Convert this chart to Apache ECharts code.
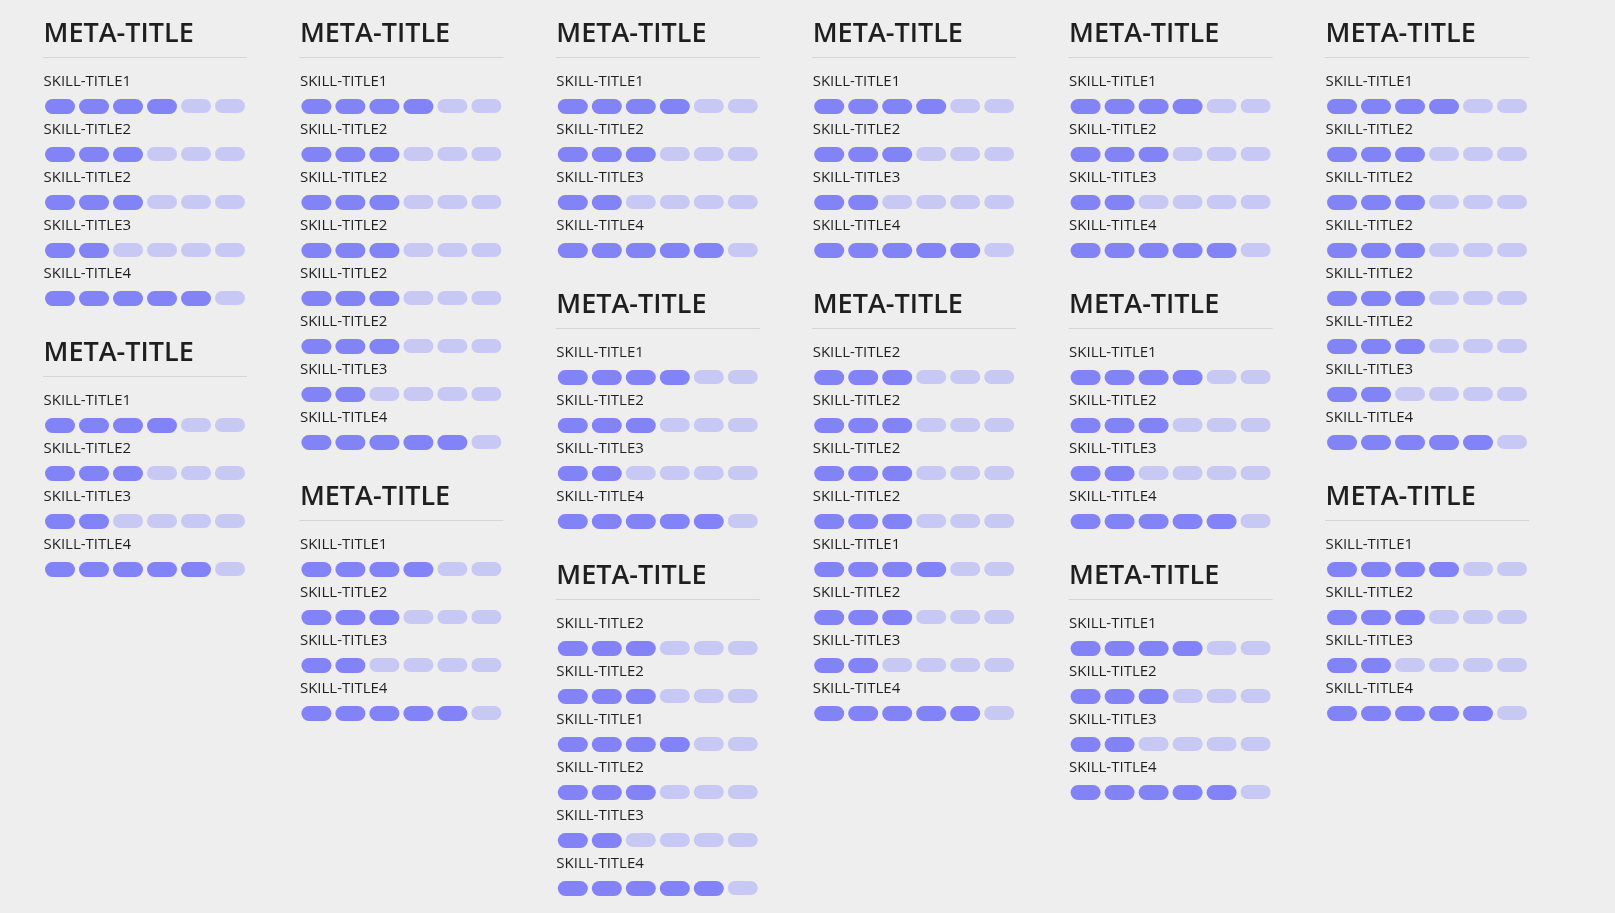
<!DOCTYPE html>
<html><head><meta charset="utf-8">
<script src="https://cdn.jsdelivr.net/npm/echarts@6/dist/echarts.min.js"></script>
<style>html,body{margin:0;padding:0;background:#eeeeee;}#chart{width:1615px;height:913px;}</style>
</head><body><div id="chart"></div>
<script>
// ---- data ----
const cardTitles = ['META-TITLE','META-TITLE','META-TITLE','META-TITLE','META-TITLE','META-TITLE','META-TITLE',
                    'META-TITLE','META-TITLE','META-TITLE','META-TITLE','META-TITLE','META-TITLE','META-TITLE'];
const cardColumns = [0,0,1,1,2,2,2,3,3,4,4,4,5,5];
const cardSkills = [
  ['SKILL-TITLE1','SKILL-TITLE2','SKILL-TITLE2','SKILL-TITLE3','SKILL-TITLE4'],
  ['SKILL-TITLE1','SKILL-TITLE2','SKILL-TITLE3','SKILL-TITLE4'],
  ['SKILL-TITLE1','SKILL-TITLE2','SKILL-TITLE2','SKILL-TITLE2','SKILL-TITLE2','SKILL-TITLE2','SKILL-TITLE3','SKILL-TITLE4'],
  ['SKILL-TITLE1','SKILL-TITLE2','SKILL-TITLE3','SKILL-TITLE4'],
  ['SKILL-TITLE1','SKILL-TITLE2','SKILL-TITLE3','SKILL-TITLE4'],
  ['SKILL-TITLE1','SKILL-TITLE2','SKILL-TITLE3','SKILL-TITLE4'],
  ['SKILL-TITLE2','SKILL-TITLE2','SKILL-TITLE1','SKILL-TITLE2','SKILL-TITLE3','SKILL-TITLE4'],
  ['SKILL-TITLE1','SKILL-TITLE2','SKILL-TITLE3','SKILL-TITLE4'],
  ['SKILL-TITLE2','SKILL-TITLE2','SKILL-TITLE2','SKILL-TITLE2','SKILL-TITLE1','SKILL-TITLE2','SKILL-TITLE3','SKILL-TITLE4'],
  ['SKILL-TITLE1','SKILL-TITLE2','SKILL-TITLE3','SKILL-TITLE4'],
  ['SKILL-TITLE1','SKILL-TITLE2','SKILL-TITLE3','SKILL-TITLE4'],
  ['SKILL-TITLE1','SKILL-TITLE2','SKILL-TITLE3','SKILL-TITLE4'],
  ['SKILL-TITLE1','SKILL-TITLE2','SKILL-TITLE2','SKILL-TITLE2','SKILL-TITLE2','SKILL-TITLE2','SKILL-TITLE3','SKILL-TITLE4'],
  ['SKILL-TITLE1','SKILL-TITLE2','SKILL-TITLE3','SKILL-TITLE4']
];
const cardLevels = [
  [4,3,3,2,5],
  [4,3,2,5],
  [4,3,3,3,3,3,2,5],
  [4,3,2,5],
  [4,3,2,5],
  [4,3,2,5],
  [3,3,4,3,2,5],
  [4,3,2,5],
  [3,3,3,3,4,3,2,5],
  [4,3,2,5],
  [4,3,2,5],
  [4,3,2,5],
  [4,3,3,3,3,3,2,5],
  [4,3,2,5]
];
const maxLevel = 6;
const columnCount = 6;

// ---- layout (in layout units of the y axis) ----
const L = {
  colLeft: 43, colPitch: 256.4, colWidth: 204,
  firstBaseline: 42.3, dividerOff: 15.2, titleMid: -8.0, labelMid: 44.5 - 5.0, pillOff: 56.7,
  rowPitch: 48, cardExtra: 79, height: 913
};
const C = {
  dark: '#8383f8', light: '#c8c8f5', title: '#1f1f1f', label: '#1f1f1f', divider: '#d5d5d5'
};

const colCursor = new Array(columnCount).fill(L.firstBaseline);
const colData = Array.from({length: columnCount}, () => []);
cardTitles.forEach((t, ci) => {
  const c = cardColumns[ci];
  colData[c].push([0, colCursor[c], ci]);
  colCursor[c] += L.rowPitch * cardSkills[ci].length + L.cardExtra;
});

function renderCard(params, api) {
  const ci = api.value(2);
  const y0 = api.value(1);
  const children = [];
  const origin = api.coord([0, y0]);
  const ux = api.size([1, 1])[0];
  children.push({
    type: 'text',
    style: {
      x: origin[0] + 0.5, y: api.coord([0, y0 + L.titleMid])[1],
      text: cardTitles[ci], fill: C.title,
      font: '600 27px "Open Sans"', verticalAlign: 'middle', align: 'left'
    }
  });
  const dy = api.coord([0, y0 + L.dividerOff])[1];
  const dEnd = api.coord([maxLevel, y0])[0];
  children.push({
    type: 'line',
    shape: {x1: origin[0], y1: Math.round(dy) - 0.5, x2: dEnd, y2: Math.round(dy) - 0.5},
    style: {stroke: C.divider, lineWidth: 1}
  });
  cardSkills[ci].forEach((name, k) => {
    const lm = y0 + L.labelMid + L.rowPitch * k;
    children.push({
      type: 'text',
      style: {
        x: origin[0] + 0.5, y: api.coord([0, lm])[1],
        text: name, fill: C.label,
        font: '400 15px "Open Sans"', verticalAlign: 'middle', align: 'left'
      }
    });
    const py = y0 + L.pillOff + L.rowPitch * k;
    const level = cardLevels[ci][k];
    for (let i = 0; i < maxLevel; i++) {
      const p = api.coord([i, py]);
      const on = i < level;
      const h = on ? 15 : 14;
      children.push({
        type: 'rect',
        shape: {x: p[0] + 2, y: p[1], width: ux - 4, height: h, r: h / 2},
        style: {fill: on ? C.dark : C.light}
      });
    }
  });
  return {type: 'group', children};
}

const grids = [], xAxes = [], yAxes = [], series = [];
for (let c = 0; c < columnCount; c++) {
  grids.push({left: L.colLeft + c * L.colPitch, top: 0, width: L.colWidth, height: L.height});
  xAxes.push({type: 'value', gridIndex: c, min: 0, max: maxLevel, show: false});
  yAxes.push({type: 'value', gridIndex: c, min: 0, max: L.height, inverse: true, show: false});
  series.push({
    type: 'custom', coordinateSystem: 'cartesian2d', xAxisIndex: c, yAxisIndex: c,
    clip: false, silent: true, renderItem: renderCard, data: colData[c]
  });
}

const chart = echarts.init(document.getElementById('chart'), null, {renderer: 'canvas'});
chart.setOption({
  backgroundColor: '#eeeeee',
  animation: false,
  grid: grids, xAxis: xAxes, yAxis: yAxes, series
});
</script>
</body></html>
